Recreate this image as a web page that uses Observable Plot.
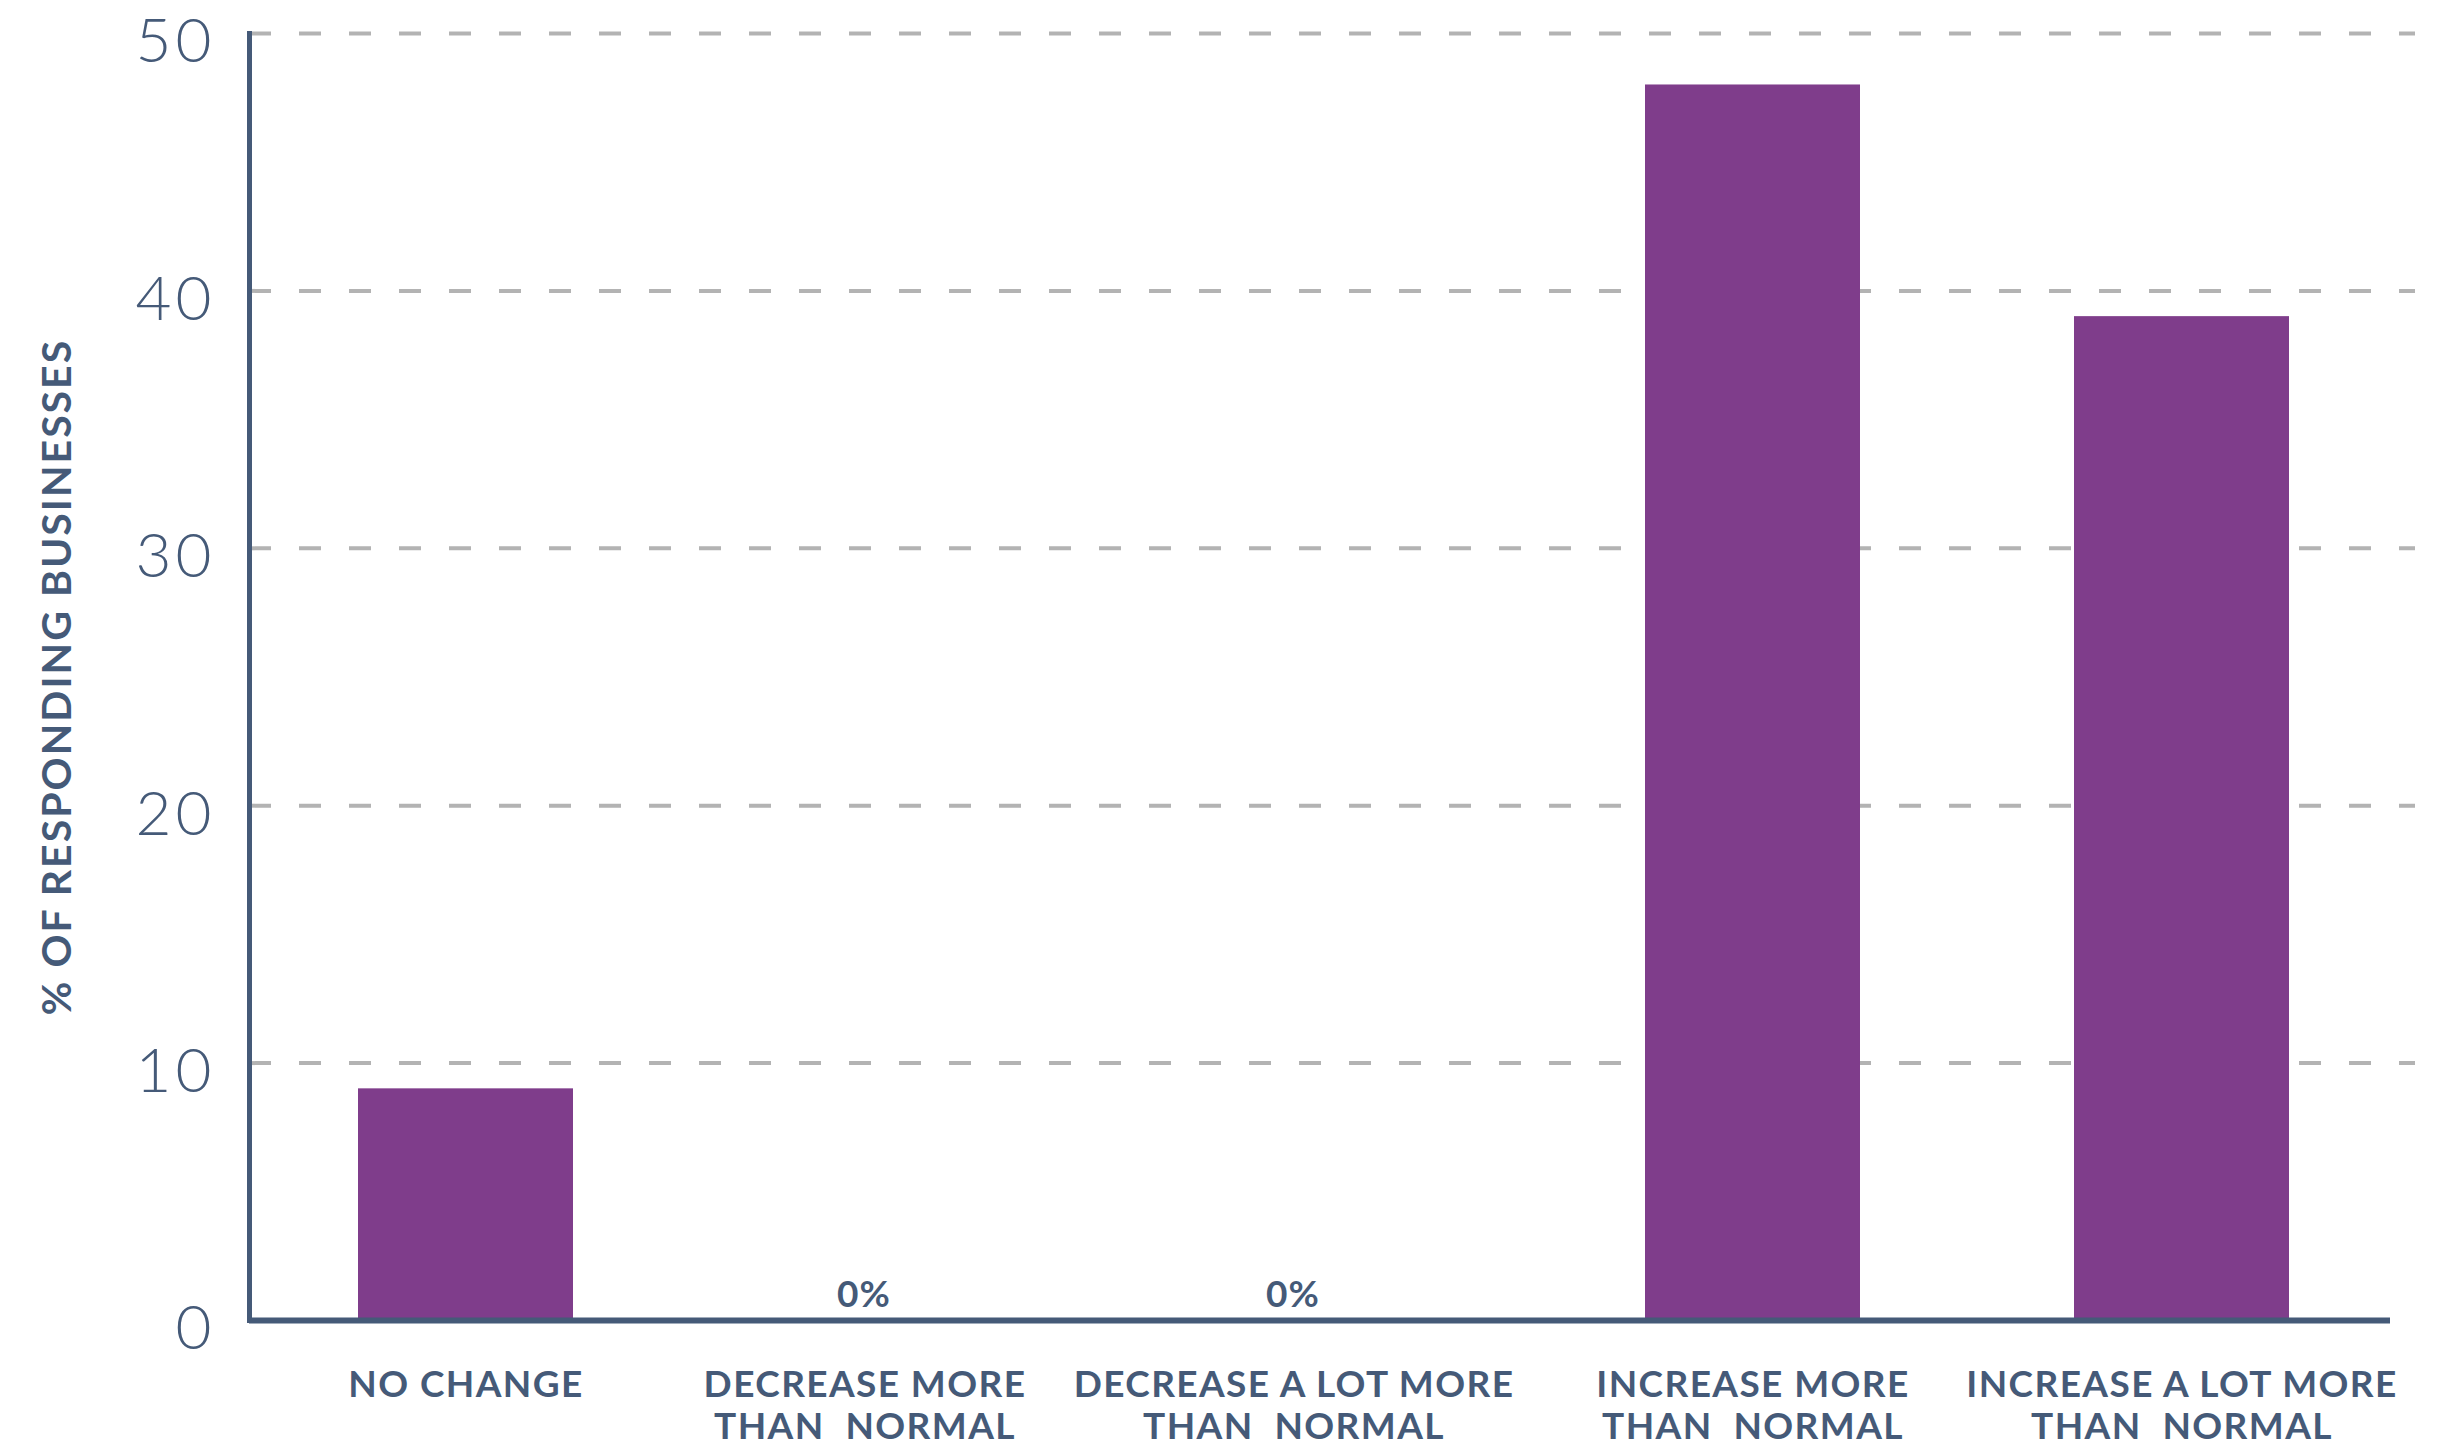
<!DOCTYPE html>
<html>
<head>
<meta charset="utf-8">
<script src="https://cdn.jsdelivr.net/npm/d3@7"></script>
<script src="https://cdn.jsdelivr.net/npm/@observablehq/plot@0.6"></script>
<style>
  html, body { margin: 0; padding: 0; background: #ffffff; }
  #chart { width: 2449px; height: 1450px; }
  #chart g[aria-label="x-axis tick label"] text { letter-spacing: 1.4px; }
  #chart g[aria-label="y-axis tick label"] text { letter-spacing: 4px; }
  #chart g.ylabel text { letter-spacing: 2px; }
  #chart g.zerolabel text { letter-spacing: 1px; }
</style>
</head>
<body>
<div id="chart"></div>
<script>
const categories = [
  "NO CHANGE",
  "DECREASE MORE\nTHAN  NORMAL",
  "DECREASE A LOT MORE\nTHAN  NORMAL",
  "INCREASE MORE\nTHAN  NORMAL",
  "INCREASE A LOT MORE\nTHAN  NORMAL"
];
const values = [9, 0, 0, 48, 39];
const yTicks = [0, 10, 20, 30, 40, 50];
const yLabel = "% OF RESPONDING BUSINESSES";

const data = categories.map((c, i) => ({category: c, value: values[i]}));
const zeroCats = data.filter(d => d.value === 0).map(d => d.category);
const barCats = data.filter(d => d.value !== 0).map(d => d.category);
const zeros = data.filter(d => d.value === 0);

const ink = "#455a78";
const barColor = "#7f3d8b";
const xAxisStyle = {
  tickSize: 0, tickPadding: 46, fontSize: 37, fontWeight: 700,
  lineHeight: 1.15, fill: ink, label: null
};

const chart = Plot.plot({
  width: 2449,
  height: 1450,
  marginTop: 33,
  marginBottom: 130,
  marginLeft: 249,
  marginRight: 51,
  style: {fontFamily: "Lato, 'Open Sans', sans-serif", color: ink, background: "#ffffff"},
  x: {domain: categories, paddingInner: 0.5, paddingOuter: 0.25, label: null},
  y: {domain: [0, 50], label: null},
  marks: [
    Plot.ruleY(yTicks.filter(t => t > 0), {
      stroke: "#b3b3b3", strokeWidth: 4, strokeDasharray: "22,28", insetRight: -17
    }),
    Plot.barY(data, {x: "category", y: "value", fill: barColor}),
    Plot.text(zeros, {
      x: "category", y: "value", text: d => `${d.value}%`,
      lineAnchor: "bottom", dy: -14, dx: -31,
      fontSize: 37, fontWeight: 700, fill: ink, className: "zerolabel"
    }),
    Plot.axisY({
      ticks: yTicks, tickSize: 0, tickPadding: 34, fontSize: 62, fontWeight: 300,
      dy: 9, fill: ink, label: null
    }),
    Plot.axisX({...xAxisStyle, ticks: barCats}),
    Plot.axisX({...xAxisStyle, ticks: zeroCats, dx: -30}),
    Plot.text([yLabel], {
      frameAnchor: "left", rotate: -90, dx: -192, textAnchor: "middle",
      fontSize: 41, fontWeight: 700, fill: ink, className: "ylabel"
    }),
    Plot.ruleY([0], {stroke: ink, strokeWidth: 6, insetRight: 8}),
    Plot.frame({anchor: "left", stroke: ink, strokeWidth: 5})
  ]
});
document.getElementById("chart").appendChild(chart);
</script>
</body>
</html>
